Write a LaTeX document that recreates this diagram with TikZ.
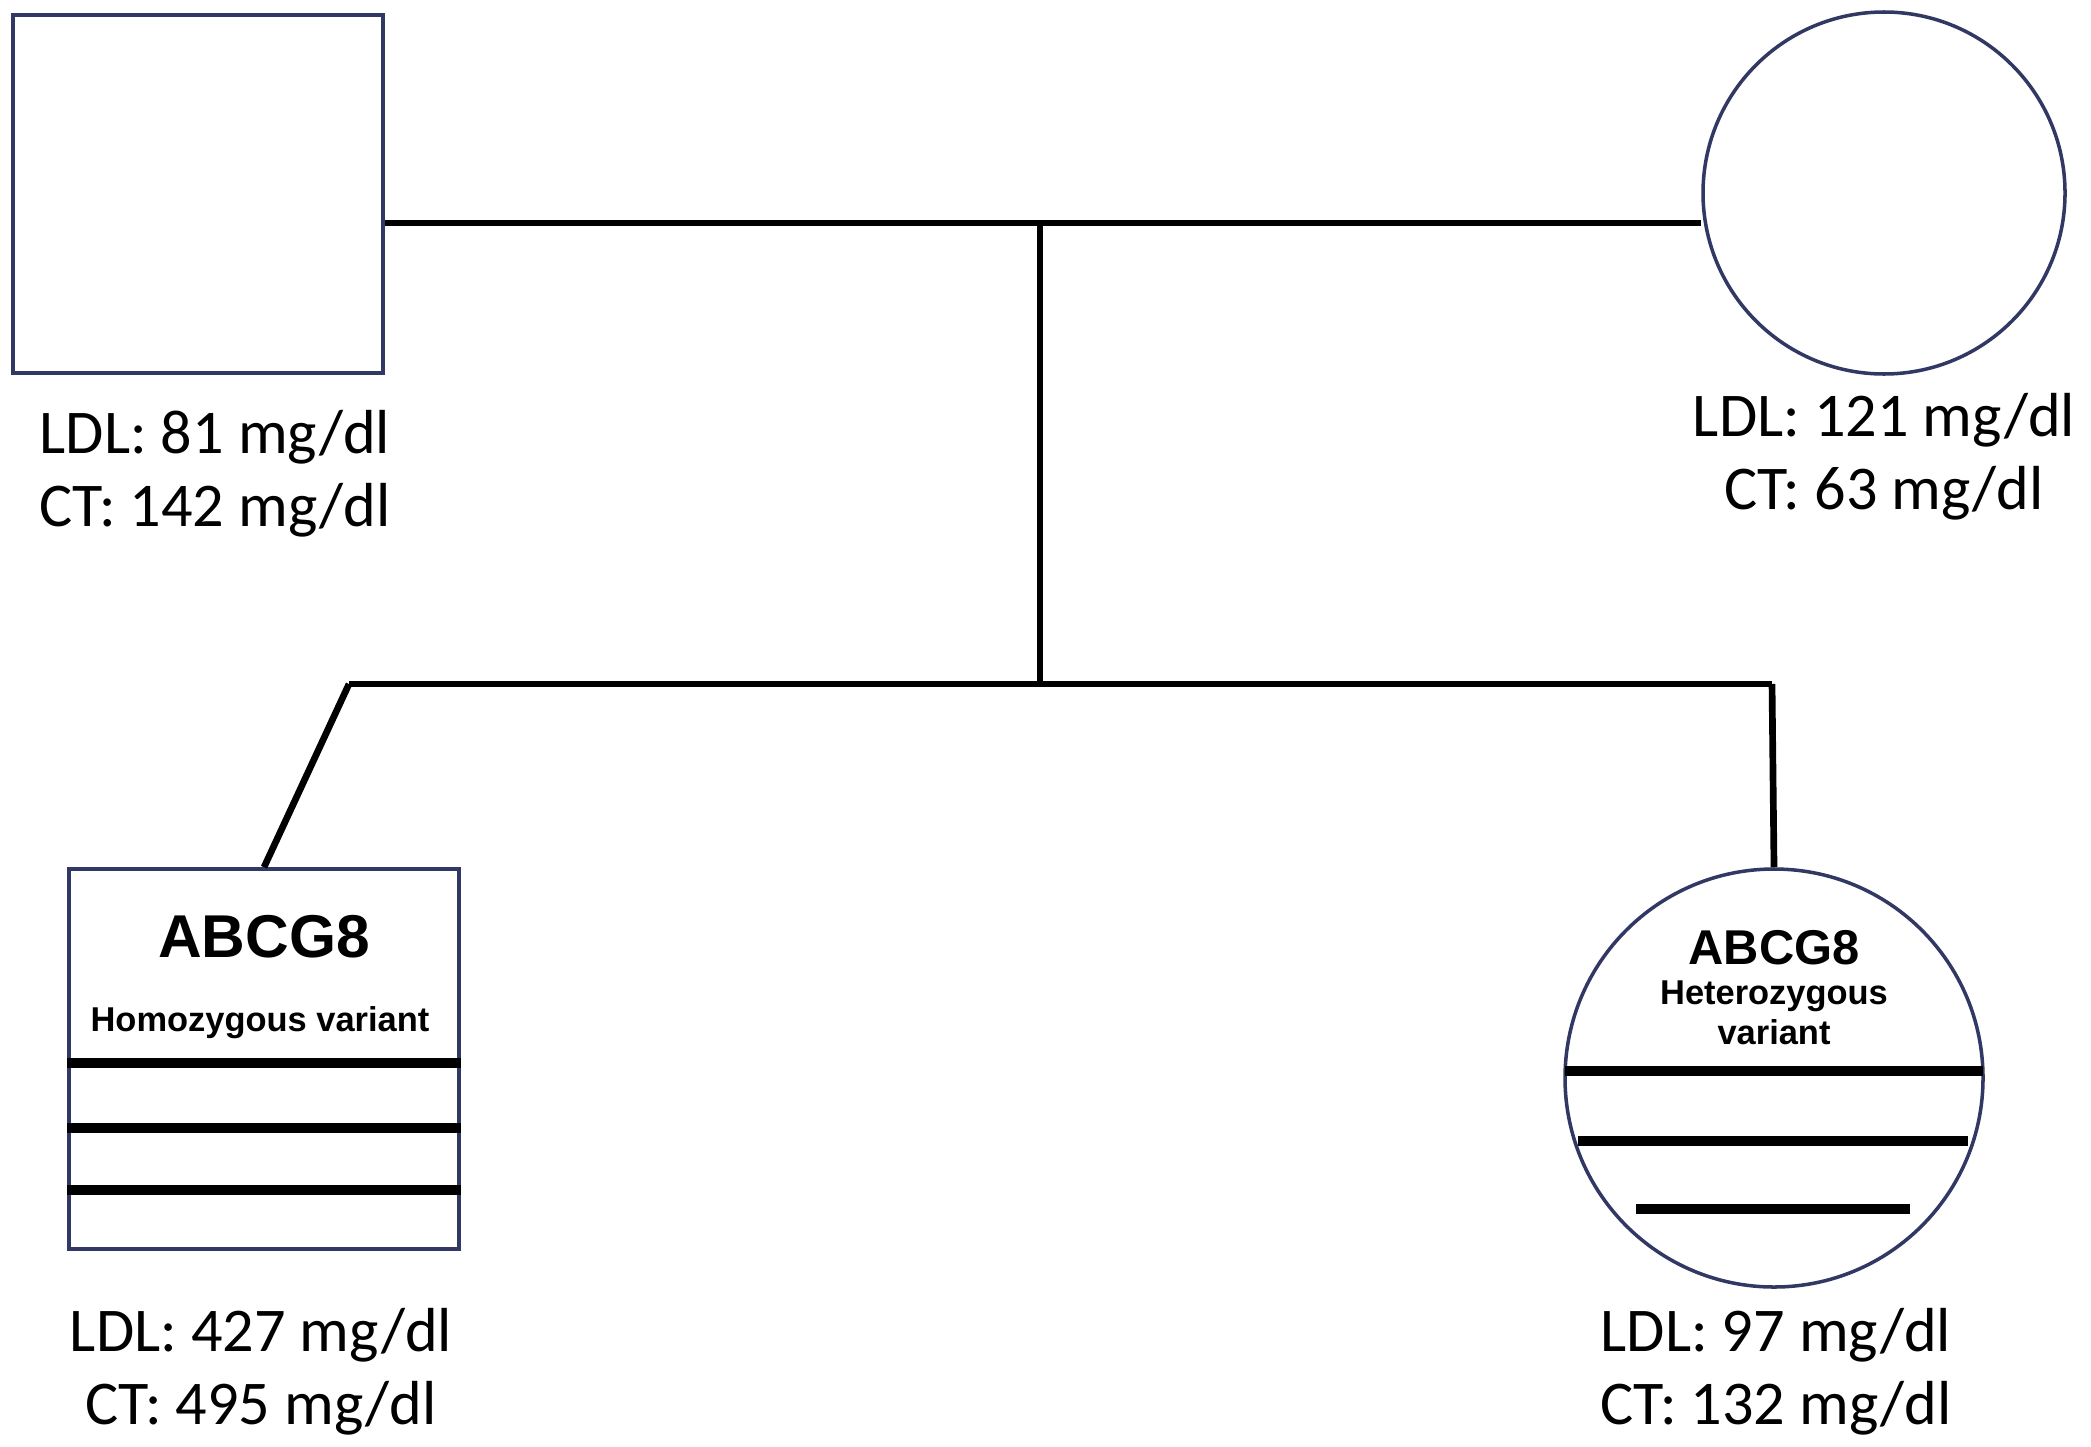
\documentclass[tikz,border=0pt]{standalone}
\usepackage{fontspec}
\setmainfont{Carlito}
\newfontfamily\genefont{Liberation Sans}
\usepackage{tikz}
\usetikzlibrary{positioning,calc}
\definecolor{outline}{RGB}{50,56,100}

\begin{document}
\begin{tikzpicture}[
  male/.style     = {rectangle, draw=outline, line width=1pt, fill=white, inner sep=0pt},
  female/.style   = {circle, draw=outline, line width=1pt, fill=white, inner sep=0pt},
  value/.style    = {align=center, font=\fontsize{17.7}{20.8}\selectfont, inner sep=0pt},
  gene/.style     = {font=\genefont\bfseries, inner sep=0pt, align=center},
  link/.style     = {line width=1.9pt, black},
  band/.style     = {line width=2.7pt, black}
]
\useasboundingbox (0,0) rectangle (20.91,-14.46);

\node[male,   minimum width=3.70cm, minimum height=3.58cm] (father)   at (1.98, -1.94) {};
\node[female, minimum size=3.62cm]                         (mother)   at (18.84,-1.93) {};
\node[male,   minimum width=3.90cm, minimum height=3.80cm] (son)      at (2.64,-10.59) {};
\node[female, minimum size=4.18cm]                         (daughter) at (17.74,-10.78) {};

\node[value] (fatherval)   at (2.15, -4.74)  {LDL: 81 mg/dl\\CT: 142 mg/dl};
\node[value] (motherval)   at (18.84,-4.57)  {LDL: 121 mg/dl\\CT: 63 mg/dl};
\node[value] (sonval)      at (2.61, -13.72) {LDL: 427 mg/dl\\CT: 495 mg/dl};
\node[value] (daughterval) at (17.76,-13.72) {LDL: 97 mg/dl\\CT: 132 mg/dl};

\node[gene, font=\genefont\bfseries\fontsize{17.2}{20}\selectfont] (songene) at (2.64,-9.37) {ABCG8};
\node[gene, font=\genefont\bfseries\fontsize{9.8}{11}\selectfont]  (sonvar)  at (2.60,-10.23) {Homozygous variant};
\node[gene, font=\genefont\bfseries\fontsize{13.9}{16}\selectfont] (daughtergene) at (17.74,-9.48) {ABCG8};
\node[gene, font=\genefont\bfseries\fontsize{9.8}{11.4}\selectfont] (daughtervar) at (17.74,-10.13) {Heterozygous\\variant};

\coordinate (mar)  at (10.40,-2.23);
\coordinate (sib)  at (10.40,-6.84);
\coordinate (sibL) at (3.49, -6.84);
\coordinate (sibR) at (17.72,-6.84);

\draw[link] (father.east |- mar) -- (mother.west |- mar);
\draw[link] (mar)  -- (sib);
\draw[link] (sibL) -- (sibR);
\draw[link] (sibL) -- (son.north);
\draw[link] (sibR) -- (daughter.north);

\foreach \y in {-10.63,-11.28,-11.90}
  \draw[band] (son.west |- 0,\y) -- (son.east |- 0,\y);

\draw[band] (15.65,-10.71) -- (19.83,-10.71);
\draw[band] (15.78,-11.41) -- (19.68,-11.41);
\draw[band] (16.36,-12.09) -- (19.10,-12.09);
\end{tikzpicture}
\end{document}
